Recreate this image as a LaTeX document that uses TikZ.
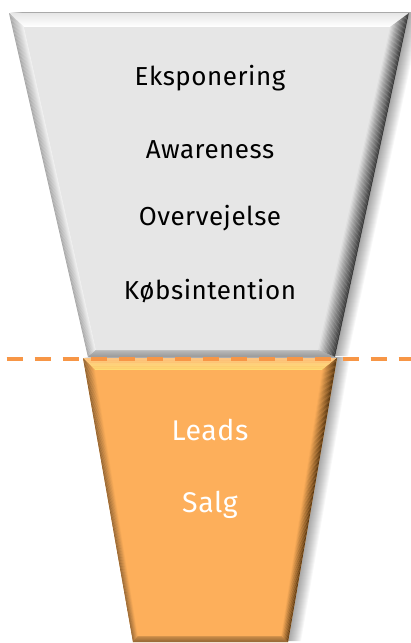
\documentclass[tikz,border=0pt]{standalone}
\usepackage{fontspec}
\setmainfont{Fira Sans}[LetterSpace=2]
\usetikzlibrary{calc}
\definecolor{greyface}{HTML}{E6E6E6}
\definecolor{orangeface}{HTML}{FDAF5B}
\definecolor{dashorange}{HTML}{F79646}
\definecolor{greyedge}{HTML}{3A3A3A}
\definecolor{brownedge}{HTML}{5A3812}
% one bevel face between outer edge (#1)--(#2) and inner edge (#3)--(#4),
% coloured from #5 at the outer edge to #6 at the inner edge
\newcommand{\bevelface}[6]{%
  \colorlet{bvout}{#5}\colorlet{bvin}{#6}%
  \foreach \i in {0,...,13}{%
    \pgfmathsetmacro{\ta}{\i/14}%
    \pgfmathsetmacro{\tb}{(\i+1.15)/14}%
    \pgfmathtruncatemacro{\pc}{100*(\i+0.5)/14}%
    \fill[bvin!\pc!bvout] ($(#1)!\ta!(#3)$) -- ($(#2)!\ta!(#4)$) -- ($(#2)!\tb!(#4)$) -- ($(#1)!\tb!(#3)$) -- cycle;
  }%
}
\begin{document}
\begin{tikzpicture}[x=1pt,y=-1pt,
  darktext/.style={font=\fontsize{26}{30}\selectfont, inner sep=0pt, text=black},
  lighttext/.style={font=\fontsize{28.5}{32}\selectfont, inner sep=0pt, text=white},
  dashline/.style={draw=dashorange, line width=3.6pt, dash pattern=on 16pt off 12pt, dash phase=21.3pt}]
\useasboundingbox (0,0) rectangle (411,643);

% ---- upper (grey) trapezoid: outer and inner corners
\coordinate (gA) at (9,13);   \coordinate (gB) at (409,13);
\coordinate (gC) at (335,357); \coordinate (gD) at (88,357);
\coordinate (ga) at (24,27);  \coordinate (gb) at (390,27);
\coordinate (gc) at (318,350); \coordinate (gd) at (96,350);

% ---- lower (orange) trapezoid: outer and inner corners
\coordinate (oA) at (83,358);  \coordinate (oB) at (337,358);
\coordinate (oC) at (288,642); \coordinate (oD) at (133,642);
\coordinate (oa) at (95,370);  \coordinate (ob) at (322,370);
\coordinate (oc) at (281,636); \coordinate (od) at (138,636);

% soft shadows to the right
\foreach \s in {1,...,13}{
  \fill[black, opacity=0.03] ([xshift=\s pt, yshift=1pt]gA) -- ([xshift=\s pt, yshift=1pt]gB)
     -- ([xshift=\s pt, yshift=1pt]gC) -- ([xshift=\s pt, yshift=1pt]gD) -- cycle;
  \fill[black, opacity=0.03] ([xshift=\s pt, yshift=1pt]oA) -- ([xshift=\s pt, yshift=1pt]oB)
     -- ([xshift=\s pt, yshift=1pt]oC) -- ([xshift=\s pt, yshift=1pt]oD) -- cycle;
}

% grey body with bevelled edges
\fill[greyface] (gA) -- (gB) -- (gC) -- (gD) -- cycle;
\bevelface{gA}{gB}{ga}{gb}{gray!20}{white}
\bevelface{gA}{gD}{ga}{gd}{gray!70}{white!92!gray}
\bevelface{gB}{gC}{gb}{gc}{greyedge}{greyface}
\bevelface{gD}{gC}{gd}{gc}{gray!85}{gray!55}
\fill[greyface] (ga) -- (gb) -- (gc) -- (gd) -- cycle;

% orange body with bevelled edges
\fill[orangeface] (oA) -- (oB) -- (oC) -- (oD) -- cycle;
\bevelface{oA}{oB}{oa}{ob}{orangeface!75!white}{orangeface!60!yellow!70!white}
\bevelface{oA}{oD}{oa}{od}{orangeface!55!black}{orangeface}
\bevelface{oB}{oC}{ob}{oc}{brownedge}{orangeface}
\bevelface{oD}{oC}{od}{oc}{orangeface!50!black}{orangeface!80!black}
\fill[orangeface] (oa) -- (ob) -- (oc) -- (od) -- cycle;

% dashed divider
\coordinate (dl) at (0,359);
\coordinate (dr) at (411,359);
\draw[dashline] (dl) -- (dr);

% stage labels
\node[darktext] (eksp) at (210,78)  {Eksponering};
\node[darktext] (awar) at (210,150) {Awareness};
\node[darktext] (over) at (210,218) {Overvejelse};
\node[darktext] (kobs) at (210,291) {Købsintention};
\node[lighttext] (leads) at (210,430) {Leads};
\node[lighttext] (salg)  at (210,505) {Salg};
\end{tikzpicture}
\end{document}
